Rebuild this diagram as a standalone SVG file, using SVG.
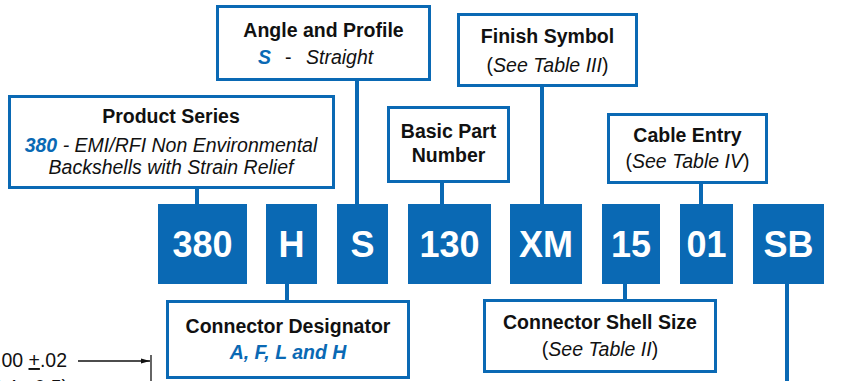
<svg xmlns="http://www.w3.org/2000/svg" width="865" height="381" viewBox="0 0 865 381">
<style>
.box{fill:#fff;stroke:#0a69b4;stroke-width:3}
.code{fill:#0a69b4}
.ct{font-family:"Liberation Sans",Arial,sans-serif;font-weight:bold;font-size:36px;fill:#fff;text-anchor:middle}
.t{font-family:"Liberation Sans",Arial,sans-serif;font-weight:bold;font-size:19.5px;fill:#111;text-anchor:middle}
.s{font-family:"Liberation Sans",Arial,sans-serif;font-size:19.5px;fill:#111;text-anchor:middle}
.i{font-style:italic}
.b{fill:#0a69b4;font-weight:bold;font-style:italic}
.conn{stroke:#0a69b4;stroke-width:4;fill:none}
.dim{stroke:#111;stroke-width:1.3;fill:none}
</style>
<defs>
<marker id="arr" markerWidth="10" markerHeight="8" refX="9" refY="4" orient="auto" markerUnits="userSpaceOnUse">
<path d="M0,1.5 L9,4 L0,6.5 Z" fill="#111"/>
</marker>
</defs>
<rect width="865" height="381" fill="#fff"/>
<g id="connectors">
<line class="conn" x1="197" y1="188" x2="197" y2="205"/>
<line class="conn" x1="357" y1="80" x2="357" y2="205"/>
<line class="conn" x1="442" y1="182" x2="442" y2="205"/>
<line class="conn" x1="542" y1="86" x2="542" y2="205"/>
<line class="conn" x1="701" y1="183" x2="701" y2="205"/>
<line class="conn" x1="287" y1="283" x2="287" y2="300"/>
<line class="conn" x1="625" y1="283" x2="625" y2="300"/>
<line class="conn" x1="787" y1="283" x2="787" y2="381"/>
</g>
<g id="code-380"><rect class="code" x="158" y="204" width="89" height="80"/><text class="ct" x="202.5" y="257">380</text></g>
<g id="code-H"><rect class="code" x="266" y="204" width="51" height="80"/><text class="ct" x="291.5" y="257">H</text></g>
<g id="code-S"><rect class="code" x="337" y="204" width="51" height="80"/><text class="ct" x="362.5" y="257">S</text></g>
<g id="code-130"><rect class="code" x="408" y="204" width="83" height="80"/><text class="ct" x="449.5" y="257">130</text></g>
<g id="code-XM"><rect class="code" x="510" y="204" width="72" height="80"/><text class="ct" x="546" y="257">XM</text></g>
<g id="code-15"><rect class="code" x="602" y="204" width="58" height="80"/><text class="ct" x="631" y="257">15</text></g>
<g id="code-01"><rect class="code" x="680" y="204" width="53" height="80"/><text class="ct" x="706.5" y="257">01</text></g>
<g id="code-SB"><rect class="code" x="753" y="204" width="71" height="80"/><text class="ct" x="788.5" y="257">SB</text></g>
<g id="product-series">
<rect class="box" x="9.5" y="96.5" width="324" height="91"/>
<text class="t" x="171" y="123">Product Series</text>
<text class="s i" x="171" y="152"><tspan class="b">380</tspan> - EMI/RFI Non Environmental</text>
<text class="s i" x="171" y="174">Backshells with Strain Relief</text>
</g>
<g id="angle-profile">
<rect class="box" x="217.5" y="6.5" width="212" height="73"/>
<text class="t" x="323.5" y="37">Angle and Profile</text>
<text class="s" x="258" y="64" style="text-anchor:start"><tspan class="b">S</tspan><tspan x="285">-</tspan><tspan class="i" x="306">Straight</tspan></text>
</g>
<g id="basic-part">
<rect class="box" x="388.5" y="107.5" width="120" height="74"/>
<text class="t" x="448.5" y="138">Basic Part</text>
<text class="t" x="448.5" y="162">Number</text>
</g>
<g id="finish-symbol">
<rect class="box" x="458.5" y="14.5" width="178" height="71"/>
<text class="t" x="547.5" y="43">Finish Symbol</text>
<text class="s" x="547.5" y="72">(<tspan class="i">See Table III</tspan>)</text>
</g>
<g id="cable-entry">
<rect class="box" x="608.5" y="114.5" width="158" height="68"/>
<text class="t" x="687.5" y="142">Cable Entry</text>
<text class="s" x="687.5" y="168">(<tspan class="i">See Table IV</tspan>)</text>
</g>
<g id="connector-designator">
<rect class="box" x="167.5" y="301.5" width="241" height="76"/>
<text class="t" x="288" y="333">Connector Designator</text>
<text class="s b" x="288" y="359">A, F, L and H</text>
</g>
<g id="connector-shell-size">
<rect class="box" x="484.5" y="300.5" width="231" height="71"/>
<text class="t" x="600" y="329">Connector Shell Size</text>
<text class="s" x="600" y="356">(<tspan class="i">See Table II</tspan>)</text>
</g>
<g id="dimension">
<text class="s" x="67" y="367" style="text-anchor:end">1.00 <tspan text-decoration="underline">+</tspan>.02</text>
<text class="s" x="68" y="394" style="text-anchor:end">(25.4 <tspan text-decoration="underline">+</tspan>0.5)</text>
<line class="dim" x1="78" y1="361" x2="150" y2="361" marker-end="url(#arr)"/>
<line class="dim" x1="151" y1="355" x2="151" y2="381"/>
</g>
</svg>
